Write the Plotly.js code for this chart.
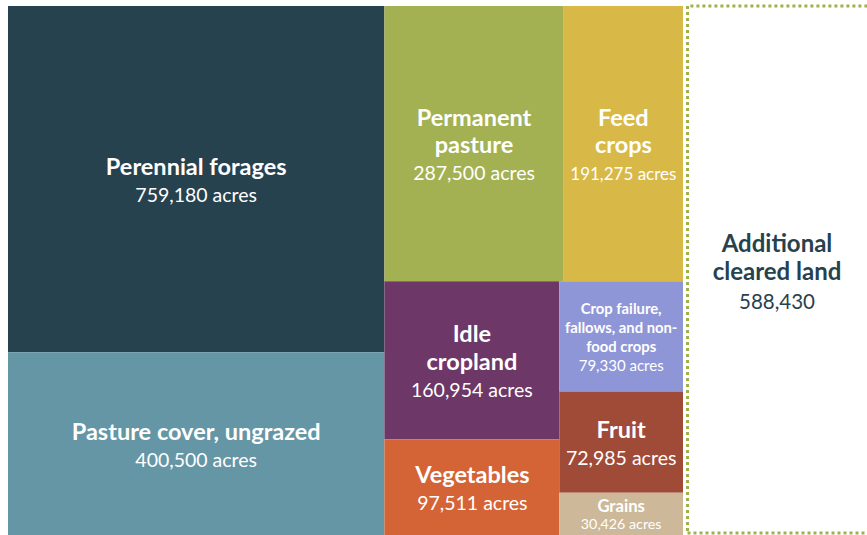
<!DOCTYPE html>
<html><head><meta charset="utf-8">
<script src="https://cdn.plot.ly/plotly-3.0.1.min.js"></script>
<style>html,body{margin:0;padding:0;background:#fff}</style>
</head><body><div id="chart" style="width:867px;height:535px"></div>
<script>
// Hierarchy: group nodes (L,R,T,B,C,D) only arrange the tiles; leaves carry the data
const ids     = ['L','R','T','B','C','D','perennial','pasture','permanent','feed','idle','veg','cropfail','fruit','grains'];
const labels  = ['Left','Right','Top','Bottom','Col1','Col2',
  'Perennial forages','Pasture cover, ungrazed','Permanent<br>pasture','Feed<br>crops',
  'Idle<br>cropland','Vegetables','Crop failure,<br>fallows, and non-<br>food crops','Fruit','Grains'];
const parents = ['','','R','R','B','B','L','L','T','T','C','C','D','D','D'];
const values  = [0,0,0,0,0,0,759180,400500,287500,191275,160954,97511,79330,72985,30426];
const colors  = ['rgba(0,0,0,0)','rgba(0,0,0,0)','rgba(0,0,0,0)','rgba(0,0,0,0)','rgba(0,0,0,0)','rgba(0,0,0,0)',
  '#27424f','#6596a6','#a3b153','#d8b947','#6d3867','#d46335','#8f96d7','#a04b37','#cdb99a'];
const unit = 'acres';

const extraLabel = 'Additional<br>cleared land';
const extraValue = 588430;

// text styling per node (line spacing base, label size, value size)
const baseSize  = [10,10,10,10,10,10,21,21,21,21,21,21,14.8,21,13];
const labelSize = [0,0,0,0,0,0,23.5,23.5,23.5,23.5,23.5,23.5,14.8,23.5,17];
const valueSize = [0,0,0,0,0,0,19.5,19.5,19.5,17,19.5,19.5,15,19.5,14.5];

const FONT = 'Lato, "Open Sans", sans-serif';
const groups = ['L','R','T','B','C','D'];
const templates = ids.map((id, i) => groups.includes(id) ? '' :
  `<span style="font-size:${labelSize[i]}px;font-weight:bold">%{label}</span><br>` +
  `<span style="font-size:${valueSize[i]}px">%{value:,.0f} ${unit}</span>`);

const main = {
  type: 'treemap',
  ids: ids, labels: labels, parents: parents, values: values,
  branchvalues: 'remainder',
  sort: true,
  tiling: {packing: 'slice-dice', pad: 0},
  marker: {colors: colors, line: {width: 0}, pad: {t: 0, l: 0, r: 0, b: 0}, depthfade: false},
  leaf: {opacity: 1},
  pathbar: {visible: false},
  texttemplate: templates,
  textposition: 'middle center',
  textfont: {family: FONT, size: baseSize, color: '#ffffff'},
  hoverinfo: 'skip',
  domain: {x: [0, 675/859], y: [0, 1]}
};

const extra = {
  type: 'treemap',
  ids: ['extra'], labels: [extraLabel], parents: [''], values: [extraValue],
  marker: {colors: ['#ffffff'], line: {width: 0}},
  leaf: {opacity: 1},
  pathbar: {visible: false},
  texttemplate: `<span style="font-size:24px;font-weight:bold">%{label}</span><br><span style="font-size:20.5px">%{value:,.0f}</span>`,
  textposition: 'middle center',
  textfont: {family: FONT, size: 22, color: '#27424f'},
  hoverinfo: 'skip',
  domain: {x: [679/859, 1], y: [0, 1]}
};

const layout = {
  width: 867, height: 535,
  margin: {l: 8, r: 0, t: 6, b: 0},
  paper_bgcolor: '#ffffff',
  showlegend: false,
  shapes: [{
    type: 'rect', xref: 'paper', yref: 'paper',
    x0: 679.5/859, x1: 1.05, y0: 2/529, y1: 1,
    line: {color: '#9db24c', width: 3, dash: '3px,3px'},
    fillcolor: 'rgba(0,0,0,0)'
  }]
};

Plotly.newPlot('chart', [main, extra], layout, {displayModeBar: false, staticPlot: true});
</script></body></html>
